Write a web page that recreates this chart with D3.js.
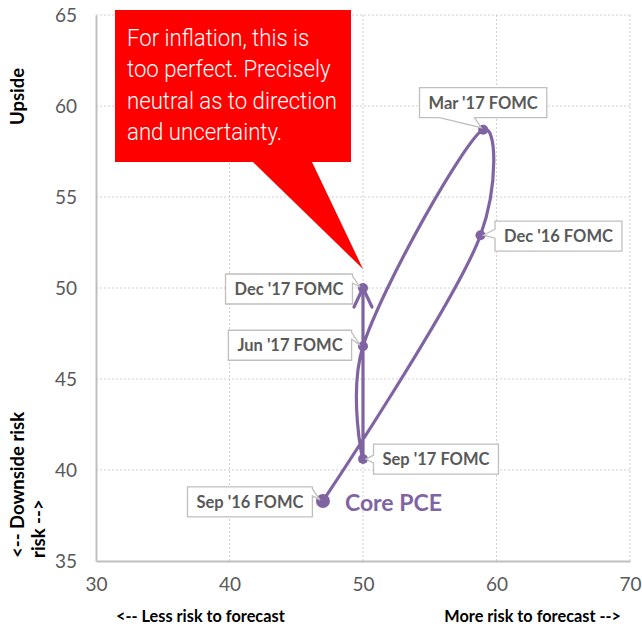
<!DOCTYPE html>
<html>
<head>
<meta charset="utf-8">
<script src="https://cdn.jsdelivr.net/npm/d3@7/dist/d3.min.js"></script>
<style>
  html, body { margin: 0; padding: 0; background: #fff; }
  svg { display: block; }
</style>
</head>
<body>
<svg id="chart" width="642" height="629"></svg>
<script>
// FOMC meetings and Core PCE balance-of-risk readings
const meetings = ["Sep '16 FOMC", "Dec '16 FOMC", "Mar '17 FOMC", "Jun '17 FOMC", "Sep '17 FOMC", "Dec '17 FOMC"];
const forecastRisk = [47, 58.8, 59, 50, 50, 50];          // x: less / more risk to forecast
const directionRisk = [38.3, 52.9, 58.7, 46.8, 40.6, 50]; // y: downside / upside
const xTicks = [30, 40, 50, 60, 70];
const yTicks = [35, 40, 45, 50, 55, 60, 65];
const seriesName = "Core PCE";
const calloutLines = ["For inflation, this is", "too perfect. Precisely", "neutral as to direction", "and uncertainty."];

// label box placement around each point: box centre offset, side the pointer leaves from, pointer base span
const labelLayout = [
  { dx: -73, dy: 1,   side: "right",  a: 2,  b: 9 },
  { dx: 78,  dy: 1,   side: "left",   a: 8,  b: 17 },
  { dx: 0,   dy: -27, side: "bottom", a: 20, b: 55 },
  { dx: -73, dy: -1,  side: "right",  a: 2,  b: 9 },
  { dx: 73,  dy: 0,   side: "left",   a: 11, b: 19 },
  { dx: -74, dy: 1,   side: "right",  a: 2,  b: 9 }
];

const purple = "#8064A2";
const svg = d3.select("#chart");
const plotL = 96, plotR = 630, plotT = 15, plotB = 561;

const x = d3.scaleLinear().domain([30, 70]).range([plotL, plotR]);
const y = d3.scaleLinear().domain([35, 65]).range([plotB, plotT]);

const pts = meetings.map((m, i) => ({ name: m, px: x(forecastRisk[i]), py: y(directionRisk[i]) }));

// gridlines
const grid = svg.append("g");
grid.selectAll("line.h").data(yTicks.slice(1)).join("line").attr("class", "h")
  .attr("x1", plotL).attr("x2", plotR)
  .attr("y1", d => y(d)).attr("y2", d => y(d))
  .attr("stroke", "#D0D0D0").attr("stroke-width", 1).attr("stroke-dasharray", "2,2");
grid.selectAll("line.v").data(xTicks.slice(1)).join("line").attr("class", "v")
  .attr("x1", d => x(d)).attr("x2", d => x(d))
  .attr("y1", plotT).attr("y2", plotB)
  .attr("stroke", "#D0D0D0").attr("stroke-width", 1).attr("stroke-dasharray", "2,2");

// axes
const yAxis = svg.append("g").attr("transform", `translate(${plotL},0)`)
  .call(d3.axisLeft(y).tickValues(yTicks).tickSize(0).tickPadding(19));
const xAxis = svg.append("g").attr("transform", `translate(0,${plotB})`)
  .call(d3.axisBottom(x).tickValues(xTicks).tickSize(0).tickPadding(17));
[yAxis, xAxis].forEach(g => {
  g.select(".domain").attr("stroke", "#BFBFBF").attr("stroke-width", 2);
  g.selectAll("text").attr("fill", "#595959").attr("font-family", "Lato, 'Open Sans', sans-serif").attr("font-size", 19);
});

// axis titles
const titleFont = "Lato, 'Open Sans', sans-serif";
svg.append("text").attr("transform", "translate(24,125) rotate(-90)")
  .attr("font-family", titleFont).attr("font-weight", 700).attr("font-size", 18.5).attr("fill", "#000")
  .text("Upside");
svg.append("text").attr("transform", "translate(24,558) rotate(-90)")
  .attr("font-family", titleFont).attr("font-weight", 700).attr("font-size", 18.5).attr("fill", "#000")
  .text("<-- Downside risk");
svg.append("text").attr("transform", "translate(45,558) rotate(-90)")
  .attr("font-family", titleFont).attr("font-weight", 700).attr("font-size", 18.5).attr("fill", "#000")
  .text("risk -->");
svg.append("text").attr("x", 116).attr("y", 622)
  .attr("font-family", titleFont).attr("font-weight", 700).attr("font-size", 16.3).attr("fill", "#000")
  .text("<-- Less risk to forecast");
svg.append("text").attr("x", 621).attr("y", 622).attr("text-anchor", "end")
  .attr("font-family", titleFont).attr("font-weight", 700).attr("font-size", 16.3).attr("fill", "#000")
  .text("More risk to forecast -->");

// arrow head for the path end
svg.append("defs").append("marker")
  .attr("id", "arrow").attr("markerUnits", "userSpaceOnUse")
  .attr("viewBox", "-22 -12 26 24").attr("markerWidth", 26).attr("markerHeight", 24)
  .attr("refX", 0).attr("refY", 0).attr("orient", "auto")
  .append("path").attr("d", "M-19,-9 L0,0 L-19,9")
  .attr("fill", "none").attr("stroke", purple).attr("stroke-width", 3.2)
  .attr("stroke-linecap", "round").attr("stroke-linejoin", "round");

// smoothed path through the meetings
const line = d3.line().x(d => d.px).y(d => d.py).curve(d3.curveCatmullRom.alpha(0.25));
svg.append("path").datum(pts).attr("d", line)
  .attr("fill", "none").attr("stroke", purple).attr("stroke-width", 3.2)
  .attr("stroke-linecap", "round").attr("marker-end", "url(#arrow)");

svg.append("g").selectAll("circle").data(pts).join("circle")
  .attr("cx", d => d.px).attr("cy", d => d.py)
  .attr("r", (d, i) => i === 0 ? 7 : 5).attr("fill", purple);

// data labels with pointers
const labelG = svg.append("g");
pts.forEach((p, i) => {
  const L = labelLayout[i];
  const g = labelG.append("g");
  const box = g.append("path");
  const t = g.append("text")
    .attr("font-family", titleFont).attr("font-weight", 700).attr("font-size", 16.5)
    .attr("fill", "#595959").attr("text-anchor", "middle")
    .attr("x", p.px + L.dx).attr("y", p.py + L.dy + 6).text(p.name);
  const w = t.node().getComputedTextLength() + 18, h = 30;
  const x0 = p.px + L.dx - w / 2, x1 = x0 + w, y0 = p.py + L.dy - h / 2, y1 = y0 + h;
  const tip = L.side === "right" ? [p.px - 3, p.py - 1] : L.side === "left" ? [p.px + 3, p.py] : [p.px - 2, p.py - 2];
  let poly;
  if (L.side === "right") poly = [[x0, y0], [x1, y0], [x1, y0 + L.a], tip, [x1, y0 + L.b], [x1, y1], [x0, y1]];
  else if (L.side === "left") poly = [[x0, y0], [x1, y0], [x1, y1], [x0, y1], [x0, y0 + L.b], tip, [x0, y0 + L.a]];
  else poly = [[x0, y0], [x1, y0], [x1, y1], [x0 + L.b, y1], tip, [x0 + L.a, y1], [x0, y1]];
  box.attr("d", "M" + poly.map(q => q.join(",")).join("L") + "Z")
    .attr("fill", "#fff").attr("stroke", "#BFBFBF").attr("stroke-width", 1.3);
});

// series name beside the first point
svg.append("text").attr("x", pts[0].px + 22).attr("y", pts[0].py + 10)
  .attr("font-family", titleFont).attr("font-weight", 700).attr("font-size", 23)
  .attr("fill", purple).text(seriesName);

// red speech callout pointing at the latest meeting
const last = pts[pts.length - 1];
const cTip = [last.px, last.py - 19];
const cBox = { x0: 115, y0: 10, x1: 351, y1: 162 };
svg.append("path")
  .attr("d", `M${cBox.x0},${cBox.y0}L${cBox.x1},${cBox.y0}L${cBox.x1},${cBox.y1}L312,${cBox.y1}L${cTip[0]},${cTip[1]}L253,${cBox.y1}L${cBox.x0},${cBox.y1}Z`)
  .attr("fill", "#FF0000");
const cText = svg.append("g");
calloutLines.forEach((s, i) => {
  cText.append("text").attr("x", 0).attr("y", i * 31.5)
    .attr("font-family", "Roboto, 'Liberation Sans', sans-serif").attr("font-weight", 300)
    .attr("font-size", 24.5).attr("fill", "#fff").text(s);
});
const widest = d3.max(cText.selectAll("text").nodes(), n => n.getComputedTextLength());
const sx = Math.min(1, 210 / widest);
cText.attr("transform", `translate(127,46) scale(${sx},1)`);
</script>
</body>
</html>
